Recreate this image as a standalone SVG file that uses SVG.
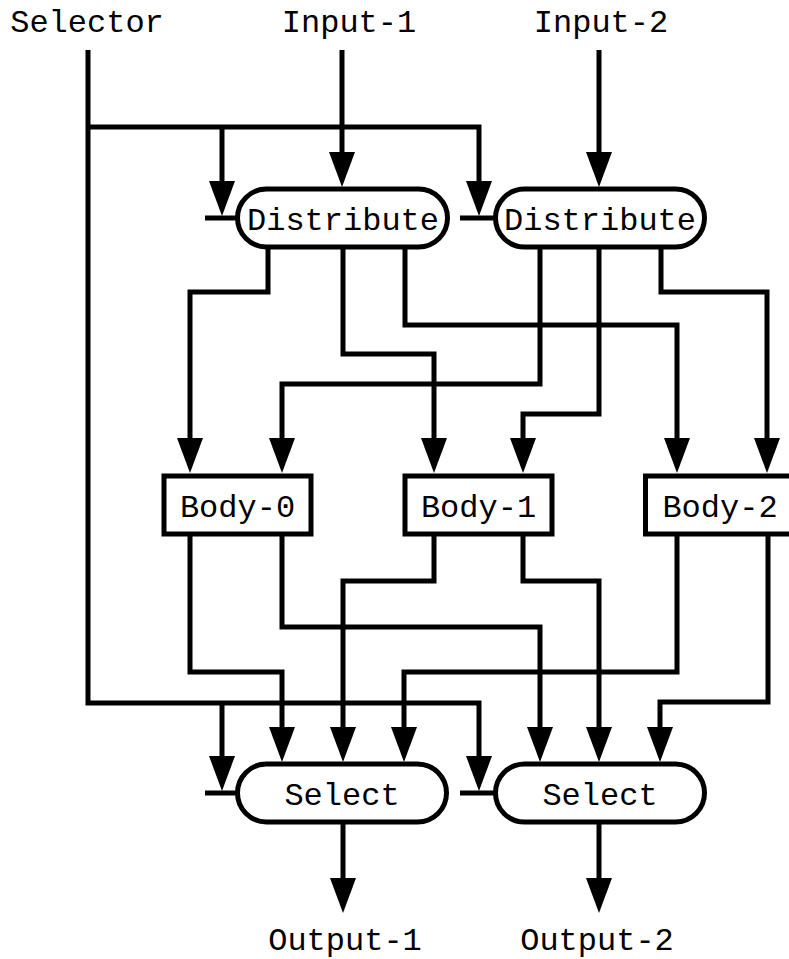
<svg xmlns="http://www.w3.org/2000/svg" width="789" height="959" viewBox="0 0 789 959">
  <style>
    .wire { fill: none; stroke: #000; stroke-width: 5; stroke-linejoin: miter; stroke-linecap: butt; }
    .arrow { marker-end: url(#head); }
    .node { fill: #fff; stroke: #000; stroke-width: 5; }
    .label { font-family: "Liberation Mono", "DejaVu Sans Mono", monospace; font-size: 32px; fill: #000; text-anchor: middle; }
  </style>
  <defs>
    <marker id="head" markerUnits="userSpaceOnUse" markerWidth="36" markerHeight="26" refX="2" refY="13" orient="auto">
      <path d="M0,0 L35,13 L0,26 z" fill="#000"/>
    </marker>
  </defs>
  <rect width="789" height="959" fill="#fff"/>

  <!-- external labels -->
  <g id="labels">
    <text class="label" x="87" y="32">Selector</text>
    <text class="label" x="349" y="32">Input-1</text>
    <text class="label" x="601" y="32">Input-2</text>
    <text class="label" x="345" y="950">Output-1</text>
    <text class="label" x="597" y="950">Output-2</text>
  </g>

  <!-- connectors -->
  <g id="connectors">
    <!-- selector bus -->
    <path class="wire arrow" d="M88,50 V703 H479 V758"/>
    <path class="wire arrow" d="M88,127 H479 V183"/>
    <path class="wire arrow" d="M222,127 V183"/>
    <path class="wire arrow" d="M222,703 V758"/>
    <!-- selector stubs -->
    <path class="wire" d="M205,218 H238"/>
    <path class="wire" d="M460,218 H496"/>
    <path class="wire" d="M205,793 H238"/>
    <path class="wire" d="M460,793 H496"/>
    <!-- inputs -->
    <path class="wire arrow" d="M342,50 V154"/>
    <path class="wire arrow" d="M599,50 V154"/>
    <!-- distribute 1 fan-out -->
    <path class="wire arrow" d="M268,247 V292 H190 V440"/>
    <path class="wire arrow" d="M343,247 V354 H434 V440"/>
    <path class="wire arrow" d="M405,247 V325 H677 V440"/>
    <!-- distribute 2 fan-out -->
    <path class="wire arrow" d="M540,247 V384 H282 V440"/>
    <path class="wire arrow" d="M599,247 V414 H523 V440"/>
    <path class="wire arrow" d="M661,247 V292 H767 V440"/>
    <!-- bodies to selects -->
    <path class="wire arrow" d="M190,534 V672 H282 V729"/>
    <path class="wire arrow" d="M282,534 V627 H540 V729"/>
    <path class="wire arrow" d="M434,534 V581 H343 V729"/>
    <path class="wire arrow" d="M523,534 V581 H599 V729"/>
    <path class="wire arrow" d="M677,534 V672 H404 V729"/>
    <path class="wire arrow" d="M768,534 V702 H660 V729"/>
    <!-- outputs -->
    <path class="wire arrow" d="M343,822 V880"/>
    <path class="wire arrow" d="M599,822 V880"/>
  </g>

  <g id="distribute-1">
    <rect class="node" x="237.5" y="189" width="210" height="58" rx="29"/>
    <text class="label" x="343" y="230">Distribute</text>
  </g>
  <g id="distribute-2">
    <rect class="node" x="495.5" y="189" width="209" height="58" rx="29"/>
    <text class="label" x="600" y="230">Distribute</text>
  </g>

  <g id="body-0">
    <rect class="node" x="164" y="476" width="147" height="58"/>
    <text class="label" x="237.5" y="517">Body-0</text>
  </g>
  <g id="body-1">
    <rect class="node" x="405" y="476" width="147" height="58"/>
    <text class="label" x="478.5" y="517">Body-1</text>
  </g>
  <g id="body-2">
    <rect class="node" x="645.5" y="476" width="148" height="58"/>
    <text class="label" x="720" y="517">Body-2</text>
  </g>

  <g id="select-1">
    <rect class="node" x="237.5" y="764" width="209" height="58" rx="29"/>
    <text class="label" x="342" y="805">Select</text>
  </g>
  <g id="select-2">
    <rect class="node" x="495.5" y="764" width="209" height="58" rx="29"/>
    <text class="label" x="600" y="805">Select</text>
  </g>
</svg>
